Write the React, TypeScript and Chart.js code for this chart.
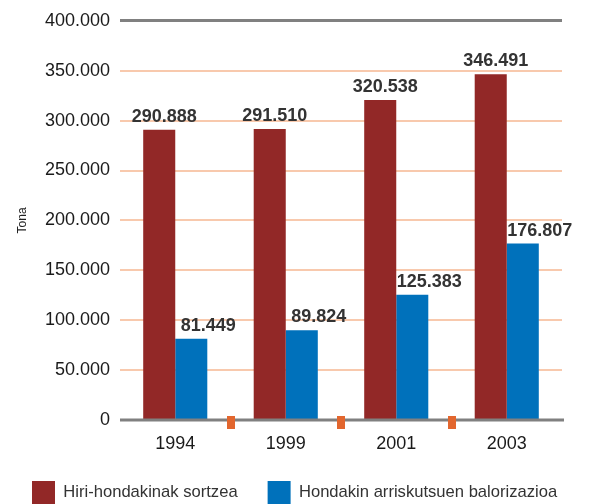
import React, { useEffect, useRef } from "react";
import { Chart, registerables } from "chart.js";

Chart.register(...registerables);

const categories = ["1994", "1999", "2001", "2003"];
const seriesNames = ["Hiri-hondakinak sortzea", "Hondakin arriskutsuen balorizazioa"];
const generated = [290888, 291510, 320538, 346491];
const recovered = [81449, 89824, 125383, 176807];
const yMin = 0;
const yMax = 400000;
const yStep = 50000;
const yTitle = "Tona";

const RED = "#922827";
const BLUE = "#0071bb";
const GRAY = "#808080";
const PEACH = "#f8c9ad";
const ORANGE = "#e2662e";

const fmt = (n: number) => String(Math.round(n)).replace(/\B(?=(\d{3})+(?!\d))/g, ".");

const decorPlugin = {
  id: "decor",
  afterDatasetsDraw(chart: any) {
    const { ctx, chartArea } = chart;
    const xs = chart.scales.x;
    const ys = chart.scales.y;
    const y0 = ys.getPixelForValue(0);
    ctx.save();
    // zero line
    ctx.strokeStyle = GRAY;
    ctx.lineWidth = 3;
    ctx.beginPath();
    ctx.moveTo(chartArea.left, y0);
    ctx.lineTo(chartArea.right + 2, y0);
    ctx.stroke();
    // category separators
    ctx.fillStyle = ORANGE;
    for (let i = 0; i < categories.length - 1; i++) {
      const xm = (xs.getPixelForValue(i) + xs.getPixelForValue(i + 1)) / 2;
      ctx.fillRect(Math.round(xm - 4), y0 - 4, 8, 13);
    }
    // value labels
    const offsets = [5, 17];
    ctx.font = "bold 18px 'Liberation Sans', Arial, sans-serif";
    ctx.fillStyle = "#333333";
    ctx.textAlign = "center";
    ctx.textBaseline = "alphabetic";
    chart.data.datasets.forEach((ds: any, di: number) => {
      const meta = chart.getDatasetMeta(di);
      meta.data.forEach((bar: any, i: number) => {
        ctx.fillText(fmt(ds.data[i]), bar.x + offsets[di], bar.y - 8);
      });
    });
    ctx.restore();
  },
};

export default function App() {
  const ref = useRef<HTMLCanvasElement | null>(null);
  useEffect(() => {
    if (!ref.current) return;
    const chart = new Chart(ref.current, {
      type: "bar",
      data: {
        labels: categories,
        datasets: [
          { label: seriesNames[0], data: generated, backgroundColor: RED, borderWidth: 0 },
          { label: seriesNames[1], data: recovered, backgroundColor: BLUE, borderWidth: 0 },
        ],
      },
      options: {
        responsive: false,
        animation: false,
        events: [],
        layout: { padding: { top: 19, left: 2, right: 0, bottom: -10 } },
        datasets: { bar: { categoryPercentage: 0.58, barPercentage: 1 } },
        plugins: {
          tooltip: { enabled: false },
          legend: {
            position: "bottom",
            align: "start",
            labels: {
              boxWidth: 23,
              boxHeight: 23,
              padding: 30,
              color: "#333333",
              font: { family: "'Liberation Sans', Arial, sans-serif", size: 16.6 },
            },
          },
        },
        scales: {
          x: {
            grid: { display: false, drawTicks: false },
            border: { display: false },
            ticks: {
              color: "#1a1a1a",
              padding: 13,
              font: { family: "'Liberation Sans', Arial, sans-serif", size: 18 },
            },
            afterFit: (s: any) => {
              s.height = 31;
            },
          },
          y: {
            min: yMin,
            max: yMax,
            border: { display: false },
            grid: {
              drawTicks: false,
              color: (c: any) => (c.tick && c.tick.value === yMax ? GRAY : c.tick && c.tick.value === 0 ? "rgba(0,0,0,0)" : PEACH),
              lineWidth: (c: any) => (c.tick && c.tick.value === yMax ? 3 : 2),
            },
            ticks: {
              stepSize: yStep,
              padding: 10,
              color: "#1a1a1a",
              font: { family: "'Liberation Sans', Arial, sans-serif", size: 18 },
              callback: (v: any) => fmt(Number(v)),
            },
            title: {
              display: true,
              text: yTitle,
              color: "#222222",
              padding: { top: 13, bottom: 0 },
              font: { family: "'Liberation Sans', Arial, sans-serif", size: 12 },
            },
            afterFit: (s: any) => {
              s.width = 118;
            },
          },
          yRight: {
            position: "right",
            display: true,
            grid: { display: false },
            border: { display: false },
            ticks: { display: false },
            afterFit: (s: any) => {
              s.width = 30;
            },
          },
        },
      },
      plugins: [decorPlugin],
    } as any);
    return () => chart.destroy();
  }, []);
  return (
    <div style={{ position: "absolute", left: 0, top: 0, width: 592, height: 504, background: "#ffffff" }}>
      <canvas ref={ref} width={592} height={504} style={{ display: "block" }} />
    </div>
  );
}
